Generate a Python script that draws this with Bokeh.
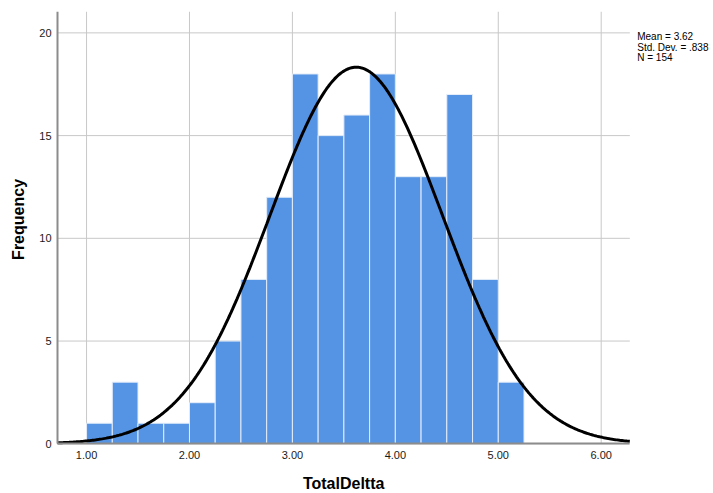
import numpy as np
from bokeh.plotting import figure
from bokeh.models import (Range1d, FixedTicker, ColumnDataSource, CustomJSTickFormatter, Label)
from bokeh.embed import file_html
from bokeh.resources import INLINE

# data
bin_left = [1.00, 1.25, 1.50, 1.75, 2.00, 2.25, 2.50, 2.75, 3.00, 3.25, 3.50, 3.75, 4.00, 4.25, 4.50, 4.75, 5.00]
counts = [1, 3, 1, 1, 2, 5, 8, 12, 18, 15, 16, 18, 13, 13, 17, 8, 3]
bin_width = 0.25
mean = 3.62
std_dev = 0.838
n_obs = 154
x_ticks = [1, 2, 3, 4, 5, 6]
y_ticks = [0, 5, 10, 15, 20]
stats_text = ["Mean = 3.62", "Std. Dev. = .838", "N = 154"]
x_title = "TotalDeltta"
y_title = "Frequency"

FONT = "Liberation Sans"
X0, X1 = 0.718, 6.278      # visible axis extent
XL, XR = 0.164, 7.091      # frame extends into the margins for the texts
Y0, Y1 = 0.0, 21.04        # visible axis extent
YB = -2.42                 # frame extends below the axis for tick labels and title

p = figure(width=713, height=493, output_backend="svg", toolbar_location=None,
           x_range=Range1d(XL, XR), y_range=Range1d(YB, Y1),
           min_border_left=0, min_border_right=0, min_border_top=11, min_border_bottom=0)
p.outline_line_color = None
p.background_fill_color = "white"
p.xgrid.grid_line_color = None
p.ygrid.grid_line_color = None

# grid lines limited to the axis extent
p.segment(x0=[X0] * len(y_ticks), x1=[X1] * len(y_ticks), y0=y_ticks, y1=y_ticks,
          line_color="#C8C8C8", line_width=1, level="underlay")
p.segment(x0=x_ticks, x1=x_ticks, y0=[Y0] * len(x_ticks), y1=[Y1] * len(x_ticks),
          line_color="#C8C8C8", line_width=1, level="underlay")

src = ColumnDataSource(dict(left=bin_left,
                            right=[b + bin_width for b in bin_left],
                            top=counts,
                            bottom=[0] * len(counts)))
p.quad(left="left", right="right", top="top", bottom="bottom", source=src,
       fill_color="#5594E4", line_color="#E4EDF9", line_width=1)

# normal curve from stated mean, sd, N
xs = np.linspace(X0, X1, 400)
ys = n_obs * bin_width / (std_dev * np.sqrt(2 * np.pi)) * np.exp(-0.5 * ((xs - mean) / std_dev) ** 2)
p.line(xs, ys, line_color="black", line_width=3)

# axes
p.xaxis.ticker = FixedTicker(ticks=x_ticks)
p.yaxis.ticker = FixedTicker(ticks=y_ticks)
p.xaxis.formatter = CustomJSTickFormatter(code="return tick.toFixed(2);")
p.xaxis.bounds = (X0, X1)
p.yaxis.bounds = (Y0, Y1)
p.xaxis.fixed_location = Y0
p.yaxis.fixed_location = X0

for ax in (p.xaxis[0], p.yaxis[0]):
    ax.axis_line_color = "#8C8C8C"
    ax.axis_line_width = 2
    ax.major_tick_line_color = None
    ax.minor_tick_line_color = None
    ax.major_tick_out = 0
    ax.major_tick_in = 0
    ax.minor_tick_out = 0
    ax.major_label_text_font = FONT
    ax.major_label_text_font_size = "11px"
    ax.major_label_text_color = "#1a1a1a"

p.xaxis.major_label_standoff = 7
p.yaxis.major_label_standoff = 6

# axis titles
p.add_layout(Label(x=(X0 + X1) / 2, y=-1.91, text=x_title, text_font=FONT,
                   text_font_style="bold", text_font_size="16px", text_align="center",
                   text_baseline="alphabetic", text_color="black"))
p.add_layout(Label(x=0.339, y=10.92, text=y_title, angle=np.pi / 2, text_font=FONT,
                   text_font_style="bold", text_font_size="16px", text_align="center",
                   text_baseline="middle", text_color="black"))

# stats text
for i, t in enumerate(stats_text):
    p.add_layout(Label(x=6.35, y=19.83 - i * 0.52, text=t, text_font=FONT,
                       text_font_size="10px", text_baseline="alphabetic", text_align="left",
                       text_color="black"))

open("out.html", "w").write(file_html(p, INLINE))
